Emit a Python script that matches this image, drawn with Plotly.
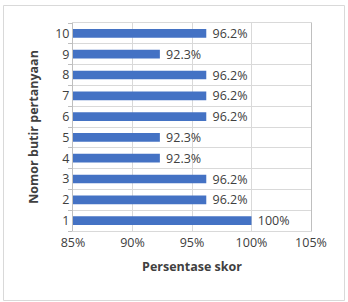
import plotly.graph_objects as go

items = [1, 2, 3, 4, 5, 6, 7, 8, 9, 10]
scores = [1.00, 0.962, 0.962, 0.923, 0.923, 0.962, 0.962, 0.962, 0.923, 0.962]
labels = [f"{v*100:g}%" for v in scores]

W, H = 348, 302
L, R, T, B = 73, 37, 23, 71
pw, ph = W - L - R, H - T - B

FONT = "Open Sans"
TXT = "#404040"
GRID = "#d9d9d9"

fig = go.Figure(go.Bar(
    x=scores, y=items, orientation="h",
    marker=dict(color="#4472C4", line=dict(width=0)),
    width=0.42,
    text=labels, texttemplate=" %{text}", textposition="outside", cliponaxis=False,
    constraintext="none",
    textfont=dict(family=FONT, size=12.5, color=TXT),
))

def px_x(p):
    return (p - L) / pw

def px_y(p):
    return (H - B - p) / ph

fig.update_layout(
    width=W, height=H,
    margin=dict(l=L, r=R, t=T, b=B),
    paper_bgcolor="white", plot_bgcolor="white",
    showlegend=False,
    font=dict(family=FONT, color=TXT),
    xaxis=dict(
        range=[0.85, 1.05], tick0=0.85, dtick=0.05, tickformat=".0%",
        showgrid=True, gridcolor=GRID, gridwidth=1,
        showline=True, mirror=True, linecolor=GRID, linewidth=1,
        ticks="", zeroline=False,
        tickfont=dict(family=FONT, size=12.5, color=TXT),
        title=dict(text="<b>Persentase skor</b>", font=dict(family=FONT, size=12.5, color=TXT), standoff=12),
    ),
    yaxis=dict(
        range=[0.5, 10.5], tickmode="array", tickvals=items, ticktext=[str(i) for i in items],
        showgrid=False, zeroline=False,
        showline=True, mirror=True, linecolor="#bfbfbf", linewidth=1,
        ticks="",
        minor=dict(tick0=0.5, dtick=1, showgrid=True, gridcolor=GRID, gridwidth=1,
                   ticks="outside", ticklen=4, tickcolor="#bfbfbf"),
        tickfont=dict(family=FONT, size=12.5, color=TXT),
        title=dict(text="<b>Nomor butir pertanyaan</b>", font=dict(family=FONT, size=12.5, color=TXT), standoff=13),
    ),
    shapes=[dict(type="rect", xref="paper", yref="paper",
                 x0=px_x(3.5), x1=px_x(344.5), y0=px_y(300.5), y1=px_y(5.5),
                 line=dict(color=GRID, width=1), fillcolor="rgba(0,0,0,0)", layer="below")],
)

fig.write_html("out.html")
